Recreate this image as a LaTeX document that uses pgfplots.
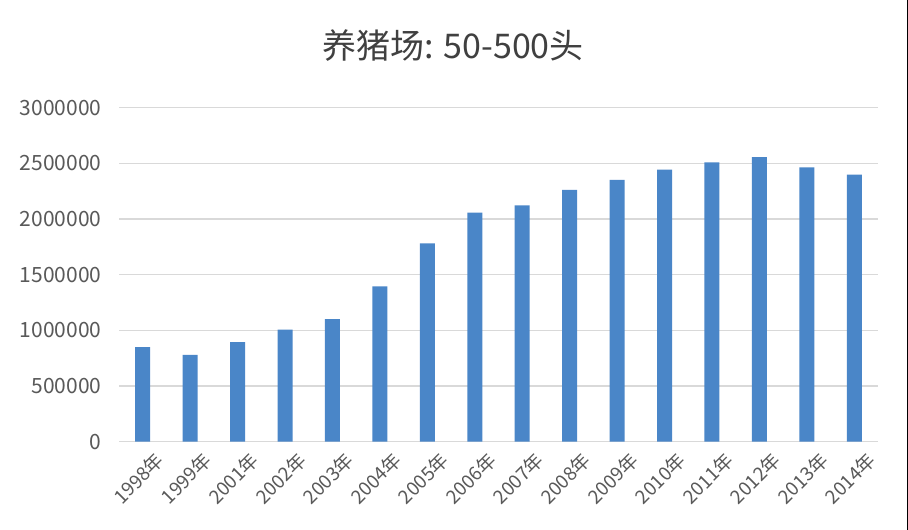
\documentclass[border=0pt]{standalone}
\usepackage{fontspec}
\setmainfont{Noto Sans CJK SC}
\usepackage{pgfplots}
\pgfplotsset{compat=1.18}
\definecolor{barblue}{RGB}{74,134,200}
\definecolor{gridgray}{RGB}{217,217,217}
\definecolor{txtgray}{RGB}{89,89,89}
\definecolor{titlegray}{RGB}{64,64,64}
\begin{document}
\begin{tikzpicture}
\path[use as bounding box, fill=white] (0,0) rectangle (908bp,530bp);
\draw[black, line width=1.5bp] (907.25bp,0) -- (907.25bp,530bp);
\node[font=\fontsize{34bp}{40bp}\selectfont, text=titlegray] at (453bp,484bp) {养猪场: 50-500头};
\begin{axis}[
  at={(119bp,88.3bp)}, anchor=south west,
  scale only axis, width=759bp, height=334bp,
  xmin=-0.5, xmax=15.5, ymin=0, ymax=3000000,
  scaled y ticks=false,
  axis line style={draw=none},
  major tick length=0pt,
  ymajorgrids, major grid style={gridgray, line width=1.5bp},
  ytick={0,500000,1000000,1500000,2000000,2500000,3000000},
  yticklabels={0,500000,1000000,1500000,2000000,2500000,3000000},
  xtick={0,...,15},
  xticklabels={1998年,1999年,2001年,2002年,2003年,2004年,2005年,2006年,2007年,2008年,2009年,2010年,2011年,2012年,2013年,2014年},
  yticklabel style={font=\fontsize{21bp}{25bp}\selectfont, text=txtgray, xshift=-14bp},
  xticklabel style={font=\fontsize{19bp}{22bp}\selectfont, text=txtgray, rotate=45, anchor=east, inner sep=0pt, xshift=2bp, yshift=-23bp},
  ybar, bar width=15bp,
]
\addplot[fill=barblue, draw=none] coordinates {
(0,849000) (1,780000) (2,894000) (3,1007000) (4,1101000) (5,1394000) (6,1781000) (7,2057000)
(8,2122000) (9,2261000) (10,2351000) (11,2443000) (12,2509000) (13,2557000) (14,2464000) (15,2398000)
};
\end{axis}
\end{tikzpicture}
\end{document}
